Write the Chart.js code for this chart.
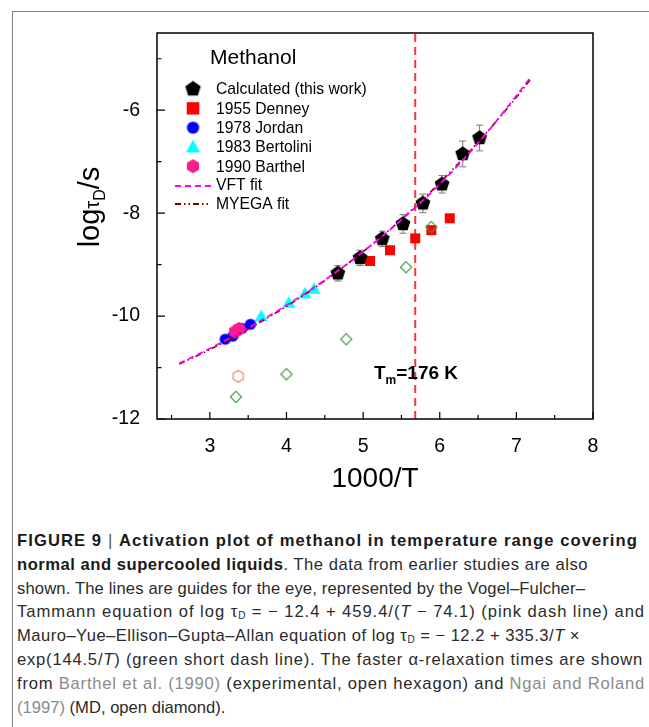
<!DOCTYPE html>
<html>
<head>
<meta charset="utf-8">
<script src="https://cdn.jsdelivr.net/npm/chart.js@4.4.1/dist/chart.umd.min.js"></script>
<style>
  html, body { margin: 0; padding: 0; background: #fff; }
  body { width: 649px; height: 727px; position: relative; overflow: hidden; }
  #cadre { position: absolute; left: 12px; top: 11px; width: 660px; height: 760px;
           border-left: 1px solid #808080; border-top: 1px solid #808080; }
  #graphe { position: absolute; left: 0; top: 0; }
  #legende { position: absolute; left: 17px; top: 529px;
             font-family: "Liberation Sans", Arial, sans-serif; font-size: 16.6px;
             line-height: 23.8px; color: #2a2a2a; }
  #legende .l { white-space: nowrap; height: 23.8px; }
  #legende .l span.t { display: inline-block; }
  #legende b { font-weight: bold; color: #1a1a1a; }
  #legende .ref { color: #8a8a8a; }
  #legende .sep { font-weight: normal; color: #555; }
  #legende sub { font-size: 10px; vertical-align: -2px; line-height: 0; }
</style>
</head>
<body>
<div id="cadre"></div>
<canvas id="graphe" width="649" height="500"></canvas>
<div id="legende">
  <div class="l" data-w="621"><span class="t"><b>FIGURE 9</b> <span class="sep">|</span> <b>Activation plot of methanol in temperature range covering</b></span></div>
  <div class="l" data-w="571"><span class="t"><b>normal and supercooled liquids</b>. The data from earlier studies are also</span></div>
  <div class="l" data-w="568"><span class="t">shown. The lines are guides for the eye, represented by the Vogel–Fulcher–</span></div>
  <div class="l" data-w="628"><span class="t">Tammann equation of log τ<sub>D</sub> = − 12.4 + 459.4/(<i>T</i> − 74.1) (pink dash line) and</span></div>
  <div class="l" data-w="563"><span class="t">Mauro–Yue–Ellison–Gupta–Allan equation of log τ<sub>D</sub> = − 12.2 + 335.3/<i>T</i> ×</span></div>
  <div class="l" data-w="626"><span class="t">exp(144.5/<i>T</i>) (green short dash line). The faster α-relaxation times are shown</span></div>
  <div class="l" data-w="628"><span class="t">from <span class="ref">Barthel et al. (1990)</span> (experimental, open hexagon) and <span class="ref">Ngai and Roland</span></span></div>
  <div class="l"><span class="t"><span class="ref">(1997)</span> (MD, open diamond).</span></div>
</div>
<script>
// ---- Données ----
const xTicks = [3, 4, 5, 6, 7, 8]
const yTicks = [-12, -10, -8, -6]

const calcX = [4.67, 4.96, 5.25, 5.52, 5.78, 6.03, 6.30, 6.52]
const calcY = [-9.17, -8.87, -8.50, -8.21, -7.81, -7.44, -6.85, -6.54]
const calcErr = [0.15, 0.15, 0.15, 0.18, 0.18, 0.17, 0.25, 0.25]

const denneyX = [5.09, 5.35, 5.68, 5.89, 6.13]
const denneyY = [-8.93, -8.72, -8.49, -8.33, -8.10]

const jordanX = [3.20, 3.30, 3.42, 3.53]
const jordanY = [-10.45, -10.39, -10.24, -10.16]

const bertoliniX = [3.30, 3.67, 4.03, 4.24, 4.36]
const bertoliniY = [-10.33, -10.00, -9.74, -9.56, -9.47]

const barthelX = [3.33, 3.38]
const barthelY = [-10.30, -10.25]

const barthelAlphaX = [3.37]
const barthelAlphaY = [-11.17]

const ngaiX = [3.34, 4.00, 4.78, 5.56, 5.89]
const ngaiY = [-11.57, -11.13, -10.45, -9.05, -8.27]

const fitX = [2.6, 3.0, 3.5, 4.0, 4.5, 5.0, 5.5, 6.0, 6.5, 7.0, 7.2]
const vftY = [-10.92, -10.63, -10.23, -9.79, -9.30, -8.75, -8.13, -7.44, -6.64, -5.72, -5.33]
const myegaY = [-10.93, -10.65, -10.25, -9.81, -9.31, -8.75, -8.12, -7.41, -6.62, -5.75, -5.37]

const tmX = 5.68
const tmLabel = '176 K'

const pts = (xs, ys) => xs.map((x, i) => ({ x: x, y: ys[i] }))
const police = '"Liberation Sans", Arial, sans-serif'

// ---- Légende de la figure : ajuster chaque ligne à la largeur d'origine ----
document.querySelectorAll('#legende .l[data-w]').forEach(ligne => {
  const span = ligne.querySelector('.t')
  const cible = Number(ligne.dataset.w)
  const n = span.textContent.length
  const ecart = cible - span.getBoundingClientRect().width
  span.style.letterSpacing = (ecart / n).toFixed(3) + 'px'
})

// ---- Symboles ----
function symbole(taille, dessin) {
  const c = document.createElement('canvas')
  c.width = taille
  c.height = taille
  const ctx = c.getContext('2d')
  ctx.translate(taille / 2, taille / 2)
  dessin(ctx)
  return c
}
function polygone(ctx, n, r, rot) {
  ctx.beginPath()
  for (let i = 0; i < n; i++) {
    const a = rot + i * 2 * Math.PI / n
    const px = r * Math.cos(a), py = r * Math.sin(a)
    i ? ctx.lineTo(px, py) : ctx.moveTo(px, py)
  }
  ctx.closePath()
}

const symPenta = symbole(18, ctx => { polygone(ctx, 5, 7.8, -Math.PI / 2); ctx.fillStyle = '#000'; ctx.fill() })
const symCarre = symbole(12, ctx => { ctx.fillStyle = '#ff0000'; ctx.fillRect(-5, -5, 10, 10) })
const symRond = symbole(14, ctx => { ctx.beginPath(); ctx.arc(0, 0, 5.6, 0, 2 * Math.PI); ctx.fillStyle = '#0000ff'; ctx.fill() })
const symTri = symbole(16, ctx => {
  ctx.beginPath(); ctx.moveTo(0, -6.5); ctx.lineTo(6.5, 5); ctx.lineTo(-6.5, 5); ctx.closePath()
  ctx.fillStyle = '#00ffff'; ctx.fill()
})
const symHexa = symbole(16, ctx => { polygone(ctx, 6, 7, -Math.PI / 2); ctx.fillStyle = '#ff1a8c'; ctx.fill() })
const symHexaVide = symbole(16, ctx => {
  polygone(ctx, 6, 5.8, -Math.PI / 2); ctx.strokeStyle = '#f07272'; ctx.lineWidth = 1.1; ctx.stroke()
})
const symLosange = symbole(14, ctx => {
  polygone(ctx, 4, 5.6, -Math.PI / 2); ctx.strokeStyle = '#3d9a3d'; ctx.lineWidth = 1.1; ctx.stroke()
})

const pointSet = (label, data, style) => ({
  label: label, data: data, showLine: false,
  pointStyle: style, pointRadius: 6, pointHoverRadius: 6
})

// ---- Décor : cadre, graduations, barres d'erreur, légende, titres ----
const decor = {
  id: 'decor',
  beforeDatasetsDraw(chart) {
    const { ctx, scales: { x, y } } = chart
    ctx.save()
    ctx.strokeStyle = '#7a7a7a'
    ctx.lineWidth = 1
    calcX.forEach((v, i) => {
      const px = x.getPixelForValue(v)
      const hi = y.getPixelForValue(calcY[i] + calcErr[i])
      const lo = y.getPixelForValue(calcY[i] - calcErr[i])
      ctx.beginPath()
      ctx.moveTo(px, hi); ctx.lineTo(px, lo)
      ctx.moveTo(px - 3.5, hi); ctx.lineTo(px + 3.5, hi)
      ctx.moveTo(px - 3.5, lo); ctx.lineTo(px + 3.5, lo)
      ctx.stroke()
    })
    ctx.restore()
  },
  afterDraw(chart) {
    const { ctx, chartArea: a, scales: { x, y } } = chart
    ctx.save()
    // cadre
    ctx.strokeStyle = '#000'
    ctx.lineWidth = 1.5
    ctx.strokeRect(a.left, a.top, a.right - a.left, a.bottom - a.top)
    // graduations vers l'intérieur
    ctx.lineWidth = 1.2
    ctx.beginPath()
    for (let v = 2.5; v <= 8; v += 0.5) {
      const px = x.getPixelForValue(v)
      const len = Number.isInteger(v) ? 7 : 4
      ctx.moveTo(px, a.bottom); ctx.lineTo(px, a.bottom - len)
    }
    for (let v = -12; v <= -5; v += 1) {
      const py = y.getPixelForValue(v)
      const len = v % 2 === 0 ? 8 : 4.5
      ctx.moveTo(a.left, py); ctx.lineTo(a.left + len, py)
    }
    ctx.stroke()

    // légende interne
    ctx.fillStyle = '#000'
    ctx.textBaseline = 'middle'
    ctx.font = '21px ' + police
    ctx.fillText('Methanol', 210, 58)
    ctx.font = '15.7px ' + police
    const entrees = [
      [symPenta, 'Calculated (this work)', 1.05],
      [symCarre, '1955 Denney', 1.25],
      [symRond, '1978 Jordan', 1.1],
      [symTri, '1983 Bertolini', 1.1],
      [symHexa, '1990 Barthel', 1.0]
    ]
    entrees.forEach((e, i) => {
      const cy = 89 + i * 19.3
      const w = e[0].width * e[2], h = e[0].height * e[2]
      ctx.drawImage(e[0], 193 - w / 2, cy - h / 2, w, h)
      ctx.fillText(e[1], 216, cy + 1)
    })
    ctx.lineWidth = 1.8
    ctx.strokeStyle = '#ff00ff'
    ctx.setLineDash([6, 4])
    ctx.beginPath(); ctx.moveTo(175, 186); ctx.lineTo(212, 186); ctx.stroke()
    ctx.strokeStyle = '#800000'
    ctx.setLineDash([6, 3, 1.5, 3, 1.5, 3])
    ctx.beginPath(); ctx.moveTo(175, 204); ctx.lineTo(208, 204); ctx.stroke()
    ctx.setLineDash([])
    ctx.fillText('VFT fit', 216, 186)
    ctx.fillText('MYEGA fit', 216, 205)

    // étiquette Tm
    ctx.textBaseline = 'alphabetic'
    ctx.font = 'bold 19px ' + police
    let tx = 374
    ctx.fillText('T', tx, 379)
    tx += ctx.measureText('T').width
    ctx.font = 'bold 12px ' + police
    ctx.fillText('m', tx, 384)
    tx += ctx.measureText('m').width
    ctx.font = 'bold 19px ' + police
    ctx.fillText('=' + tmLabel, tx, 379)

    // titres des axes
    ctx.font = '28px ' + police
    ctx.textAlign = 'center'
    ctx.fillText('1000/T', (a.left + a.right) / 2, 487)
    ctx.textAlign = 'left'
    ctx.translate(99, 207)
    ctx.rotate(-Math.PI / 2)
    const morceaux = [
      ['log', '29px', 0],
      ['τ', '20px', 0],
      ['D', '16px', 6],
      ['/s', '29px', 0]
    ]
    let total = 0
    morceaux.forEach(m => { ctx.font = m[1] + ' ' + police; m.push(ctx.measureText(m[0]).width); total += m[3] })
    let cx = -total / 2
    morceaux.forEach(m => {
      ctx.font = m[1] + ' ' + police
      ctx.fillText(m[0], cx, m[2])
      cx += m[3]
    })
    ctx.restore()
  }
}

new Chart(document.getElementById('graphe'), {
  type: 'scatter',
  data: {
    datasets: [
      {
        label: 'VFT fit', data: pts(fitX, vftY), showLine: true,
        borderColor: '#ff00ff', borderWidth: 1.8, borderDash: [6, 4],
        pointRadius: 0, tension: 0.4, cubicInterpolationMode: 'monotone'
      },
      {
        label: 'MYEGA fit', data: pts(fitX, myegaY), showLine: true,
        borderColor: '#800000', borderWidth: 1.6, borderDash: [6, 3, 1.5, 3, 1.5, 3],
        pointRadius: 0, tension: 0.4, cubicInterpolationMode: 'monotone'
      },
      pointSet('Calculated (this work)', pts(calcX, calcY), symPenta),
      pointSet('Ngai MD', pts(ngaiX, ngaiY), symLosange),
      pointSet('1955 Denney', pts(denneyX, denneyY), symCarre),
      pointSet('Barthel alpha', pts(barthelAlphaX, barthelAlphaY), symHexaVide),
      pointSet('1990 Barthel', pts(barthelX, barthelY), symHexa),
      pointSet('1978 Jordan', pts(jordanX, jordanY), symRond),
      pointSet('1983 Bertolini', pts(bertoliniX, bertoliniY), symTri),
      {
        label: 'Tm', data: [{ x: tmX, y: -12 }, { x: tmX, y: -4.5 }], showLine: true,
        borderColor: '#ff3333', borderWidth: 2, borderDash: [8, 5], pointRadius: 0
      }
    ]
  },
  options: {
    responsive: false,
    animation: false,
    devicePixelRatio: 1,
    layout: { padding: { left: 60, right: 56, top: 33, bottom: 0 } },
    plugins: { legend: { display: false }, tooltip: { enabled: false } },
    scales: {
      x: {
        type: 'linear', min: 2.31, max: 8,
        grid: { display: false }, border: { display: false },
        afterBuildTicks: s => { s.ticks = xTicks.map(v => ({ value: v })) },
        afterFit: s => { s.height = 81 },
        ticks: {
          color: '#000', padding: 8, maxRotation: 0,
          font: { family: police, size: 19.5 },
          callback: v => String(v)
        }
      },
      y: {
        type: 'linear', min: -12, max: -4.5,
        grid: { display: false }, border: { display: false },
        afterBuildTicks: s => { s.ticks = yTicks.map(v => ({ value: v })) },
        afterFit: s => { s.width = 97 },
        ticks: {
          color: '#000', padding: 9,
          font: { family: police, size: 19.5 },
          callback: v => String(v)
        }
      }
    }
  },
  plugins: [decor]
})
</script>
</body>
</html>
